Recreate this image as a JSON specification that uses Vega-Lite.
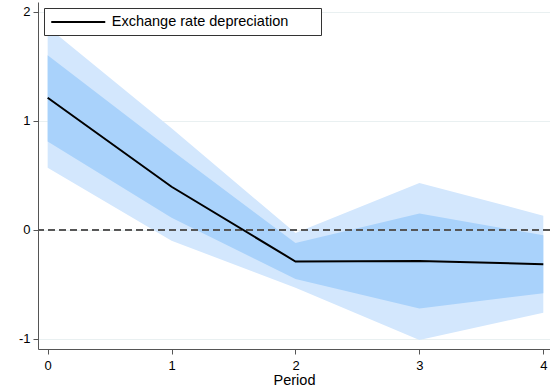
{
  "$schema": "https://vega.github.io/schema/vega-lite/v6.json",
  "autosize": "none",
  "padding": {"left": 38, "top": 2, "right": 0, "bottom": 43},
  "width": 512,
  "height": 347,
  "background": "white",
  "config": {
    "view": {"stroke": null},
    "font": "Liberation Sans",
    "axis": {"labelFont": "Liberation Sans", "titleFont": "Liberation Sans", "labelColor": "#000", "titleColor": "#000"}
  },
  "data": {
    "values": [
      {"period": 0, "est": 1.21, "lo68": 0.81, "hi68": 1.60, "lo95": 0.57, "hi95": 1.86},
      {"period": 1, "est": 0.395, "lo68": 0.11, "hi68": 0.73, "lo95": -0.10, "hi95": 0.93},
      {"period": 2, "est": -0.29, "lo68": -0.45, "hi68": -0.12, "lo95": -0.53, "hi95": -0.03},
      {"period": 3, "est": -0.285, "lo68": -0.72, "hi68": 0.15, "lo95": -1.01, "hi95": 0.43},
      {"period": 4, "est": -0.315, "lo68": -0.58, "hi68": -0.05, "lo95": -0.76, "hi95": 0.13}
    ]
  },
  "layer": [
    {
      "mark": {"type": "area", "color": "#d3e7fd", "opacity": 1},
      "encoding": {
        "x": {"field": "period", "type": "quantitative", "scale": {"domain": [-0.078, 4.054], "nice": false, "zero": false},
          "axis": {"values": [0, 1, 2, 3, 4], "title": "Period", "titleFontSize": 14.5, "titleFontWeight": "normal", "titlePadding": 1,
            "labelFontSize": 13, "labelPadding": 5, "tickSize": 5, "tickColor": "#555", "domainColor": "#555", "grid": false,
            "labelExpr": "datum.value + ''"}},
        "y": {"field": "hi95", "type": "quantitative", "scale": {"domain": [-1.092, 2.088], "nice": false, "zero": false},
          "axis": {"values": [-1, 0, 1, 2], "title": null, "labelFontSize": 13, "labelPadding": 3, "tickSize": 5,
            "tickColor": "#555", "domainColor": "#555", "grid": true, "gridColor": "#e9f0f1", "gridWidth": 1,
            "labelExpr": "datum.value + ''"}},
        "y2": {"field": "lo95"}
      }
    },
    {
      "mark": {"type": "area", "color": "#a9d2fb", "opacity": 1},
      "encoding": {
        "x": {"field": "period", "type": "quantitative"},
        "y": {"field": "hi68", "type": "quantitative"},
        "y2": {"field": "lo68"}
      }
    },
    {
      "mark": {"type": "rule", "color": "#555", "strokeDash": [7, 4], "strokeWidth": 1.5},
      "encoding": {"y": {"datum": 0}}
    },
    {
      "mark": {"type": "line", "strokeWidth": 2},
      "encoding": {
        "x": {"field": "period", "type": "quantitative"},
        "y": {"field": "est", "type": "quantitative"},
        "color": {"datum": "Exchange rate depreciation", "type": "nominal",
          "scale": {"range": ["#000000"]},
          "legend": {"title": null, "orient": "none", "legendX": 6, "legendY": 6,
            "strokeColor": "#333", "fillColor": "#fff", "padding": 6,
            "symbolType": "M-4,0H4M34.4,0", "symbolSize": 182.25, "symbolStrokeWidth": 2, "symbolOffset": 20.25,
            "labelFontSize": 14.5, "labelFont": "Liberation Sans", "labelColor": "#000", "labelOffset": 25.5, "labelLimit": 400}}
      }
    }
  ]
}
